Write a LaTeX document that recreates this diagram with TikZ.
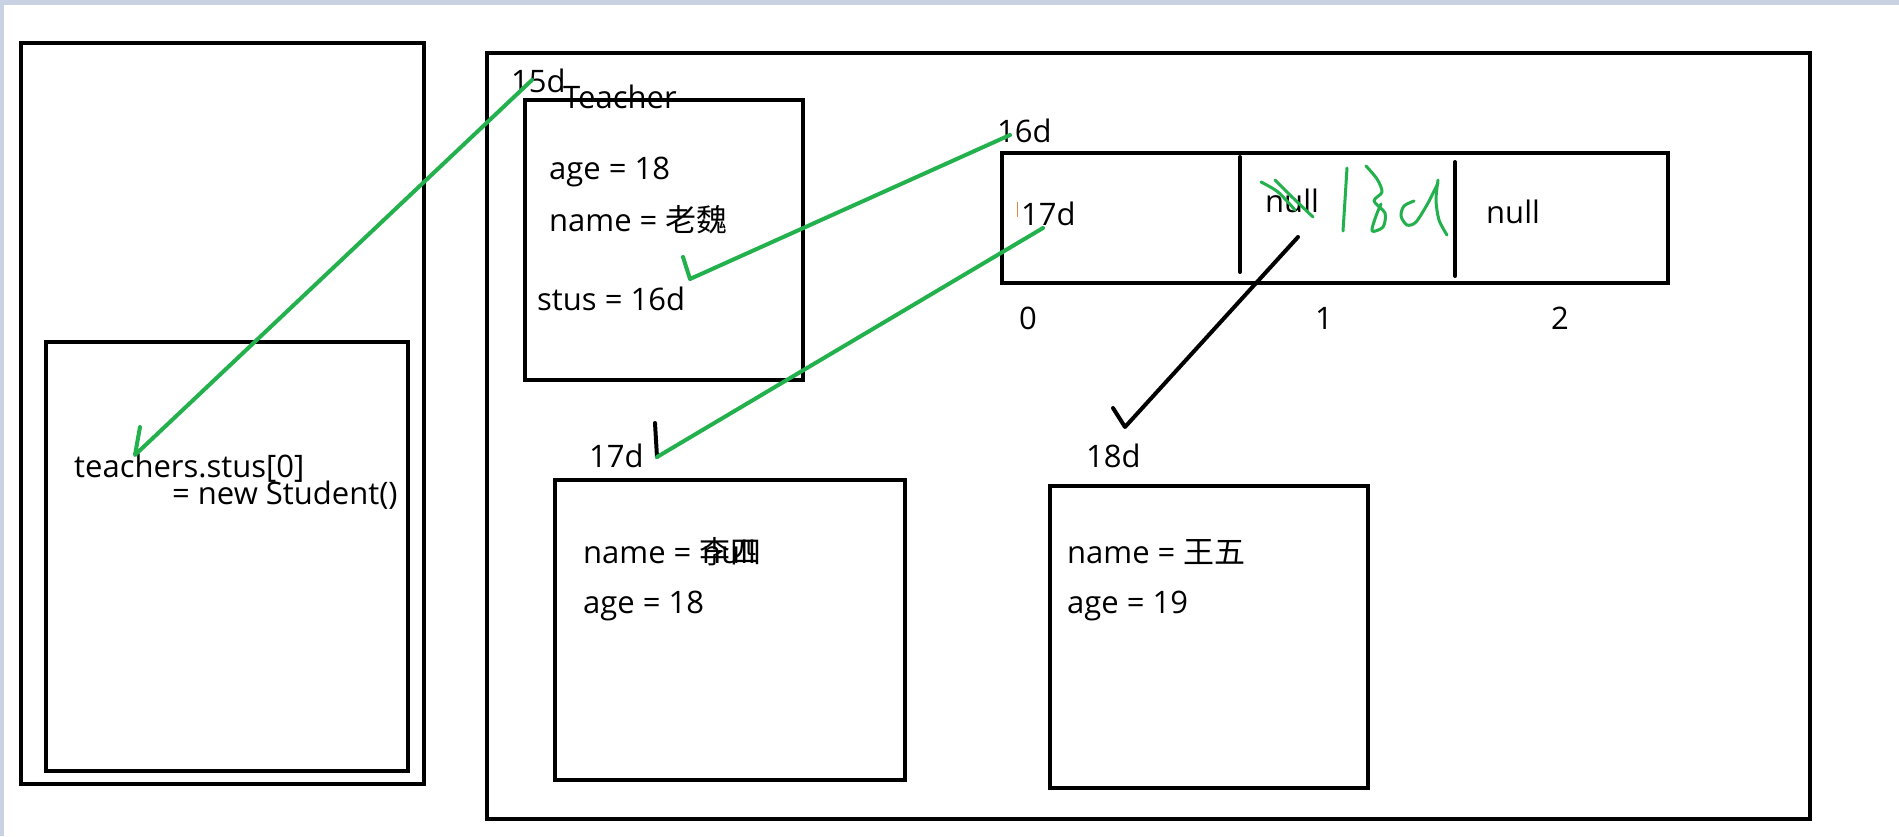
\documentclass[tikz,border=0pt]{standalone}
\usepackage{fontspec}
\setmainfont{Open Sans}
\newfontfamily\cjk{Noto Sans CJK SC}
\usepackage{tikz}

\definecolor{paintgreen}{RGB}{34,177,76}
\definecolor{winframe}{RGB}{201,210,226}
\definecolor{caret}{RGB}{214,140,60}

\tikzset{
  box/.style = {draw, line width=4.5pt},
  ink/.style = {line width=4pt, line cap=round, line join=round},
  pen/.style = {ink, draw=paintgreen},
  scrawl/.style = {pen, line width=3pt},
  lbl/.style = {anchor=base west, inner sep=0pt, font=\fontsize{31}{37}\selectfont}
}

\begin{document}
\begin{tikzpicture}[x=1pt,y=-1pt]

  \useasboundingbox (0,0) rectangle (1899,836);
  \fill[winframe] (0,0) rectangle (1899,836);
  \fill[white] (4,5) rectangle (1899,836);

  \draw[box] (21,43) rectangle (424,784);
  \draw[box] (46,342) rectangle (408,771);

  \draw[box] (487,53) rectangle (1810,819);
  \draw[box] (525,100) rectangle (803,380);
  \draw[box] (1002,153) rectangle (1668,283);
  \foreach \x/\ya/\yb in {1240/157/272, 1455/162/276}{
     \draw[ink] (\x,\ya) -- (\x,\yb);
  }
  \draw[box] (555,480) rectangle (905,780);
  \draw[box] (1050,486) rectangle (1368,788);

  \node[lbl] (stk1) at (74,477) {teachers.stus[0]};
  \node[lbl] (stk2) at (172,504) {= new Student()};

  \node[lbl] (adr15) at (511,92) {15d};
  \node[lbl] (tcls) at (563,108) {Teacher};
  \node[lbl] (tage) at (549,179) {age = 18};
  \node[lbl] (tname) at (549,231) {name = {\cjk 老魏}};
  \node[lbl] (tstus) at (537,310) {stus = 16d};

  \node[lbl] (adr16) at (997,142) {16d};
  \node[lbl] (cell0) at (1021,225) {17d};
  \node[lbl] (cell1) at (1265,212) {null};
  \node[lbl] (cell2) at (1486,223) {null};
  \foreach \i/\x in {0/1028,1/1324,2/1560}{
     \node[lbl, anchor=base] (idx\i) at (\x,329) {\i};
  }

  \node[lbl] (adr17) at (589,467) {17d};
  \node[lbl] (s1name) at (583,563) {name = {\cjk 李四}};
  \node[lbl] (s1null) at (702,563) {null};
  \node[lbl] (s1age) at (583,613) {age = 18};

  \node[lbl] (adr18) at (1086,467) {18d};
  \node[lbl] (s2name) at (1067,563) {name = {\cjk 王五}};
  \node[lbl] (s2age) at (1067,613) {age = 19};

  \draw[caret, line width=1pt] (1017,202) -- (1017,217);

  \coordinate (g1a) at (532,80);
  \coordinate (g1b) at (135,455);
  \coordinate (g1c) at (140,427);
  \draw[pen] (g1a) -- (g1b) -- (g1c);

  \coordinate (g2a) at (1010,135);
  \coordinate (g2b) at (690,279);
  \coordinate (g2c) at (683,257);
  \draw[pen] (g2a) -- (g2b) -- (g2c);

  \coordinate (g3a) at (1043,228);
  \coordinate (g3b) at (657,457);
  \coordinate (k3a) at (655,423);
  \draw[ink] (k3a) -- (g3b);
  \draw[pen] (g3a) -- (g3b);

  \coordinate (k4a) at (1298,237);
  \coordinate (k4b) at (1125,427);
  \coordinate (k4c) at (1113,408);
  \draw[ink] (k4a) -- (k4b) -- (k4c);

  \draw[scrawl] plot[smooth] coordinates {(1261,182) (1278,192) (1295,210)};
  \draw[scrawl] plot[smooth] coordinates {(1275,180) (1290,195) (1313,217)};
  \draw[scrawl] plot[smooth] coordinates {(1347,168) (1345,200) (1343,231)};
  \draw[scrawl] plot[smooth] coordinates {(1366,166) (1377,179) (1382,192) (1374,201) (1385,213) (1383,227) (1372,231) (1376,216) (1381,204)};
  \draw[scrawl] plot[smooth] coordinates {(1414,201) (1404,206) (1401,216) (1407,225) (1416,222) (1428,203) (1438,183)};
  \draw[scrawl] plot[smooth] coordinates {(1438,180) (1436,200) (1439,220) (1447,235)};

\end{tikzpicture}
\end{document}
